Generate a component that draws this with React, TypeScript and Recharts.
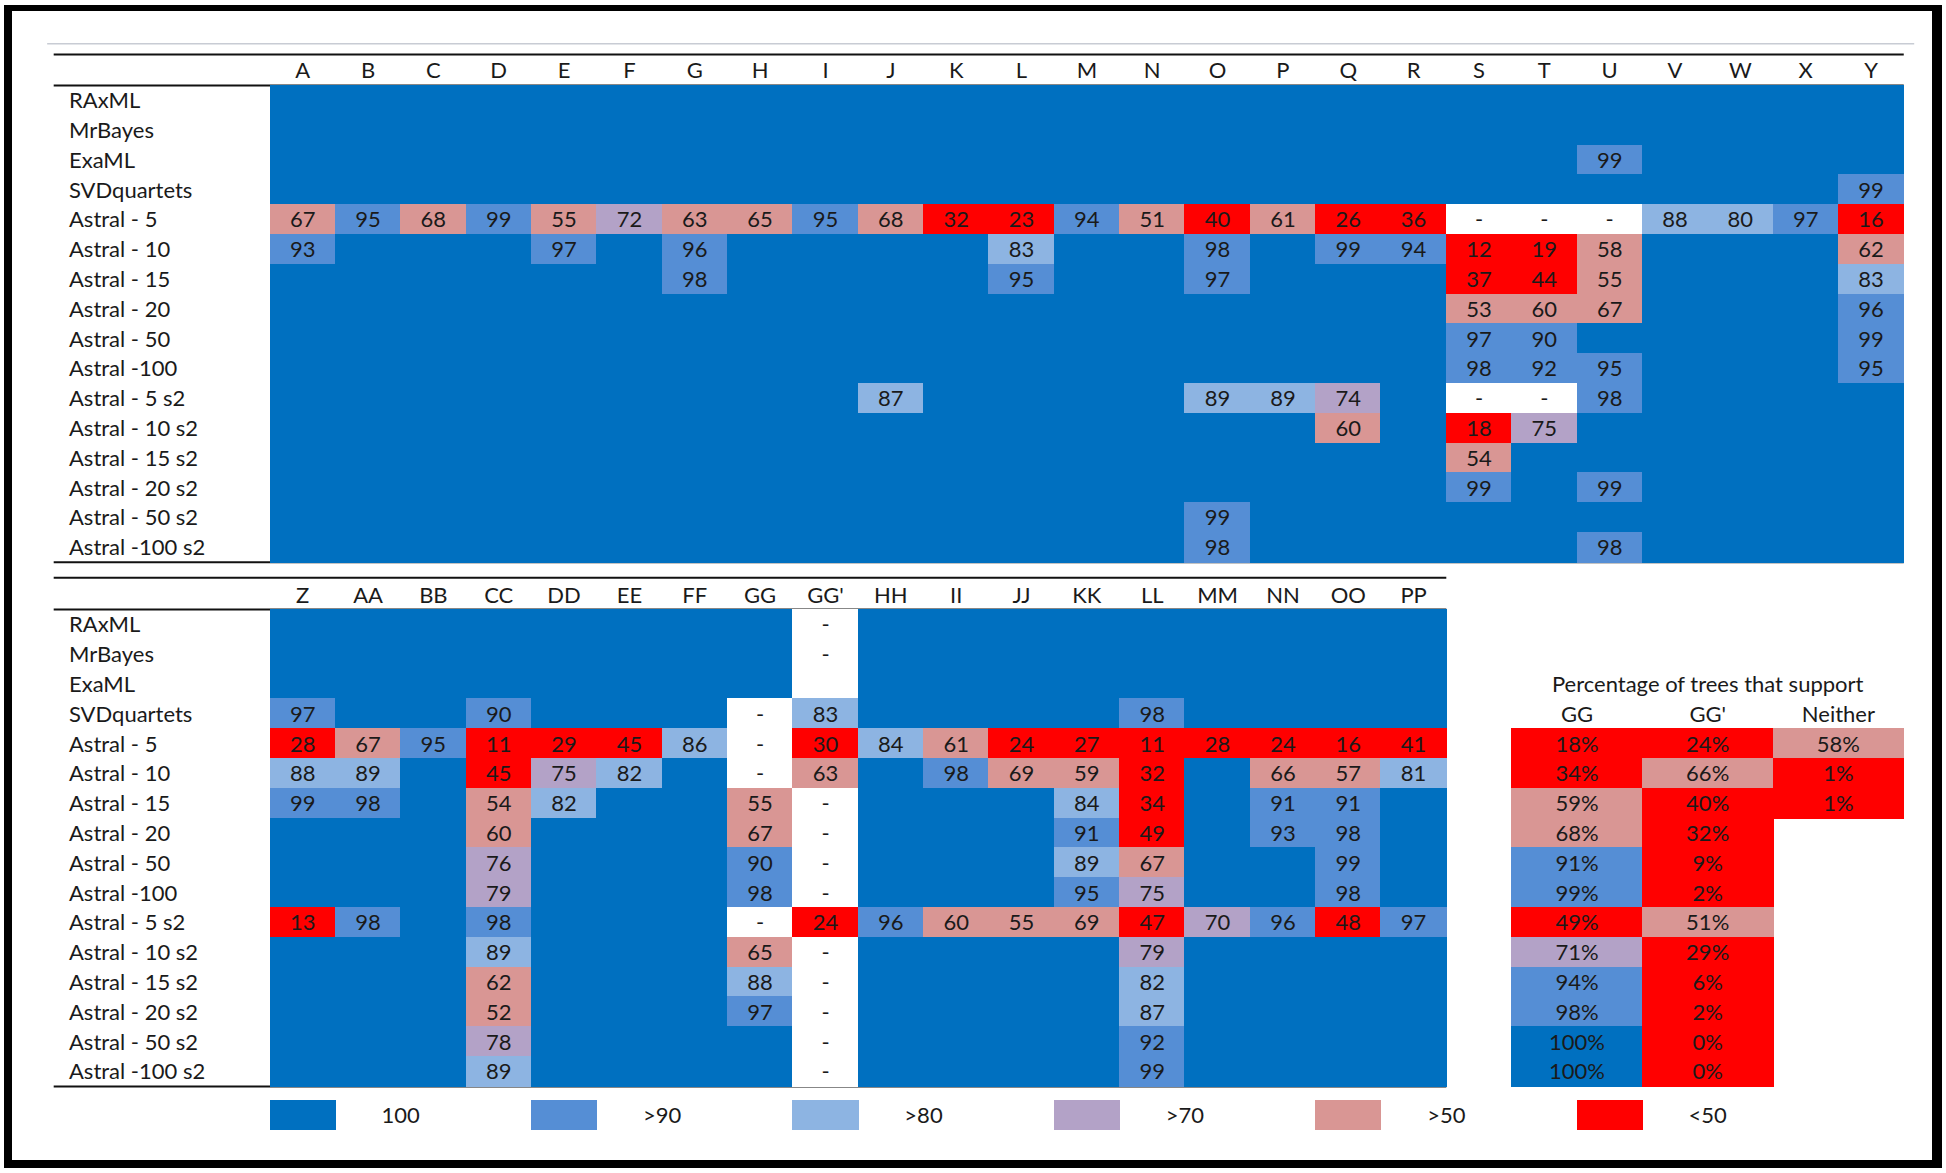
import React from 'react';
import { ScatterChart, Scatter, XAxis, YAxis, ReferenceLine } from 'recharts';

// ---------- data ----------
const ROW_LABELS = [
  'RAxML', 'MrBayes', 'ExaML', 'SVDquartets',
  'Astral - 5', 'Astral - 10', 'Astral - 15', 'Astral - 20', 'Astral - 50', 'Astral -100',
  'Astral - 5 s2', 'Astral - 10 s2', 'Astral - 15 s2', 'Astral - 20 s2', 'Astral - 50 s2', 'Astral -100 s2',
];

const COLS_1 = ['A', 'B', 'C', 'D', 'E', 'F', 'G', 'H', 'I', 'J', 'K', 'L', 'M', 'N', 'O', 'P', 'Q', 'R', 'S', 'T', 'U', 'V', 'W', 'X', 'Y'];
const COLS_2 = ['Z', 'AA', 'BB', 'CC', 'DD', 'EE', 'FF', 'GG', "GG'", 'HH', 'II', 'JJ', 'KK', 'LL', 'MM', 'NN', 'OO', 'PP'];

type V = number | string;

const T1_RAXML: V[] = [100, 100, 100, 100, 100, 100, 100, 100, 100, 100, 100, 100, 100, 100, 100, 100, 100, 100, 100, 100, 100, 100, 100, 100, 100];
const T1_MRBAYES: V[] = [100, 100, 100, 100, 100, 100, 100, 100, 100, 100, 100, 100, 100, 100, 100, 100, 100, 100, 100, 100, 100, 100, 100, 100, 100];
const T1_EXAML: V[] = [100, 100, 100, 100, 100, 100, 100, 100, 100, 100, 100, 100, 100, 100, 100, 100, 100, 100, 100, 100, 99, 100, 100, 100, 100];
const T1_SVD: V[] = [100, 100, 100, 100, 100, 100, 100, 100, 100, 100, 100, 100, 100, 100, 100, 100, 100, 100, 100, 100, 100, 100, 100, 100, 99];
const T1_A5: V[] = [67, 95, 68, 99, 55, 72, 63, 65, 95, 68, 32, 23, 94, 51, 40, 61, 26, 36, '-', '-', '-', 88, 80, 97, 16];
const T1_A10: V[] = [93, 100, 100, 100, 97, 100, 96, 100, 100, 100, 100, 83, 100, 100, 98, 100, 99, 94, 12, 19, 58, 100, 100, 100, 62];
const T1_A15: V[] = [100, 100, 100, 100, 100, 100, 98, 100, 100, 100, 100, 95, 100, 100, 97, 100, 100, 100, 37, 44, 55, 100, 100, 100, 83];
const T1_A20: V[] = [100, 100, 100, 100, 100, 100, 100, 100, 100, 100, 100, 100, 100, 100, 100, 100, 100, 100, 53, 60, 67, 100, 100, 100, 96];
const T1_A50: V[] = [100, 100, 100, 100, 100, 100, 100, 100, 100, 100, 100, 100, 100, 100, 100, 100, 100, 100, 97, 90, 100, 100, 100, 100, 99];
const T1_A100: V[] = [100, 100, 100, 100, 100, 100, 100, 100, 100, 100, 100, 100, 100, 100, 100, 100, 100, 100, 98, 92, 95, 100, 100, 100, 95];
const T1_A5S2: V[] = [100, 100, 100, 100, 100, 100, 100, 100, 100, 87, 100, 100, 100, 100, 89, 89, 74, 100, '-', '-', 98, 100, 100, 100, 100];
const T1_A10S2: V[] = [100, 100, 100, 100, 100, 100, 100, 100, 100, 100, 100, 100, 100, 100, 100, 100, 60, 100, 18, 75, 100, 100, 100, 100, 100];
const T1_A15S2: V[] = [100, 100, 100, 100, 100, 100, 100, 100, 100, 100, 100, 100, 100, 100, 100, 100, 100, 100, 54, 100, 100, 100, 100, 100, 100];
const T1_A20S2: V[] = [100, 100, 100, 100, 100, 100, 100, 100, 100, 100, 100, 100, 100, 100, 100, 100, 100, 100, 99, 100, 99, 100, 100, 100, 100];
const T1_A50S2: V[] = [100, 100, 100, 100, 100, 100, 100, 100, 100, 100, 100, 100, 100, 100, 99, 100, 100, 100, 100, 100, 100, 100, 100, 100, 100];
const T1_A100S2: V[] = [100, 100, 100, 100, 100, 100, 100, 100, 100, 100, 100, 100, 100, 100, 98, 100, 100, 100, 100, 100, 98, 100, 100, 100, 100];

const T2_RAXML: V[] = [100, 100, 100, 100, 100, 100, 100, 100, '-', 100, 100, 100, 100, 100, 100, 100, 100, 100];
const T2_MRBAYES: V[] = [100, 100, 100, 100, 100, 100, 100, 100, '-', 100, 100, 100, 100, 100, 100, 100, 100, 100];
const T2_EXAML: V[] = [100, 100, 100, 100, 100, 100, 100, 100, '', 100, 100, 100, 100, 100, 100, 100, 100, 100];
const T2_SVD: V[] = [97, 100, 100, 90, 100, 100, 100, '-', 83, 100, 100, 100, 100, 98, 100, 100, 100, 100];
const T2_A5: V[] = [28, 67, 95, 11, 29, 45, 86, '-', 30, 84, 61, 24, 27, 11, 28, 24, 16, 41];
const T2_A10: V[] = [88, 89, 100, 45, 75, 82, 100, '-', 63, 100, 98, 69, 59, 32, 100, 66, 57, 81];
const T2_A15: V[] = [99, 98, 100, 54, 82, 100, 100, 55, '-', 100, 100, 100, 84, 34, 100, 91, 91, 100];
const T2_A20: V[] = [100, 100, 100, 60, 100, 100, 100, 67, '-', 100, 100, 100, 91, 49, 100, 93, 98, 100];
const T2_A50: V[] = [100, 100, 100, 76, 100, 100, 100, 90, '-', 100, 100, 100, 89, 67, 100, 100, 99, 100];
const T2_A100: V[] = [100, 100, 100, 79, 100, 100, 100, 98, '-', 100, 100, 100, 95, 75, 100, 100, 98, 100];
const T2_A5S2: V[] = [13, 98, 100, 98, 100, 100, 100, '-', 24, 96, 60, 55, 69, 47, 70, 96, 48, 97];
const T2_A10S2: V[] = [100, 100, 100, 89, 100, 100, 100, 65, '-', 100, 100, 100, 100, 79, 100, 100, 100, 100];
const T2_A15S2: V[] = [100, 100, 100, 62, 100, 100, 100, 88, '-', 100, 100, 100, 100, 82, 100, 100, 100, 100];
const T2_A20S2: V[] = [100, 100, 100, 52, 100, 100, 100, 97, '-', 100, 100, 100, 100, 87, 100, 100, 100, 100];
const T2_A50S2: V[] = [100, 100, 100, 78, 100, 100, 100, 100, '-', 100, 100, 100, 100, 92, 100, 100, 100, 100];
const T2_A100S2: V[] = [100, 100, 100, 89, 100, 100, 100, 100, '-', 100, 100, 100, 100, 99, 100, 100, 100, 100];

const TABLE_1 = [T1_RAXML, T1_MRBAYES, T1_EXAML, T1_SVD, T1_A5, T1_A10, T1_A15, T1_A20, T1_A50, T1_A100, T1_A5S2, T1_A10S2, T1_A15S2, T1_A20S2, T1_A50S2, T1_A100S2];
const TABLE_2 = [T2_RAXML, T2_MRBAYES, T2_EXAML, T2_SVD, T2_A5, T2_A10, T2_A15, T2_A20, T2_A50, T2_A100, T2_A5S2, T2_A10S2, T2_A15S2, T2_A20S2, T2_A50S2, T2_A100S2];

const PCT_TITLE = 'Percentage of trees that support';
const PCT_HEADERS = ['GG', "GG'", 'Neither'];
const PCT_GG = [18, 34, 59, 68, 91, 99, 49, 71, 94, 98, 100, 100];
const PCT_GGP = [24, 66, 40, 32, 9, 2, 51, 29, 6, 2, 0, 0];
const PCT_NEITHER = [58, 1, 1];

const LEGEND_LABELS = ['100', '>90', '>80', '>70', '>50', '<50'];
const LEGEND_LEVELS = [100, 95, 85, 75, 60, 30];

// ---------- layout ----------
const W = 1946;
const H = 1173;
const COL_W = 65.35;
const ROW_H = 29.8;
const LEFT_PX = 270;
const TOP_PX = 85.4;
const X_DOMAIN: [number, number] = [-LEFT_PX / COL_W, (W - LEFT_PX) / COL_W];
const Y_DOMAIN: [number, number] = [-TOP_PX / ROW_H, (H - TOP_PX) / ROW_H];
const T2 = 17.59; // first data row of lower table (row units)
const LINE_LEFT = -3.31;
const LABEL_X = -3.076;
const LEGEND_Y = T2 + 16.46;
const FONT = 'Lato, "Open Sans", "DejaVu Sans", sans-serif';
const TEXT = '#1a1a1a';
const FS = 22;

const colorOf = (v: V): string => {
  if (typeof v === 'string') return '#FFFFFF';
  if (v >= 100) return '#0070C0';
  if (v >= 90) return '#558ED5';
  if (v >= 80) return '#8DB4E2';
  if (v >= 70) return '#B3A2C7';
  if (v >= 50) return '#D99694';
  return '#FF0000';
};

type Cell = { x: number; y: number; w: number; fill: string; text: string };
type Txt = { x: number; y: number; text: string; anchor: string };

const cells: Cell[] = [];
TABLE_1.forEach((row, ri) =>
  row.forEach((v, ci) =>
    cells.push({ x: ci + 0.5, y: ri + 0.5, w: 1, fill: colorOf(v), text: v === 100 ? '' : String(v) })
  )
);
TABLE_2.forEach((row, ri) =>
  row.forEach((v, ci) =>
    cells.push({ x: ci + 0.5, y: T2 + ri + 0.5, w: 1, fill: colorOf(v), text: v === 100 ? '' : String(v) })
  )
);
[PCT_GG, PCT_GGP, PCT_NEITHER].forEach((col, k) =>
  col.forEach((v, i) =>
    cells.push({ x: 19 + 2 * k + 1, y: T2 + 4 + i + 0.5, w: 2, fill: colorOf(v), text: `${v}%` })
  )
);
LEGEND_LEVELS.forEach((v, k) =>
  cells.push({ x: 4 * k + 0.5, y: LEGEND_Y + 0.5, w: 1, fill: colorOf(v), text: '' })
);

const texts: Txt[] = [];
COLS_1.forEach((c, i) => texts.push({ x: i + 0.5, y: -0.5, text: c, anchor: 'middle' }));
COLS_2.forEach((c, i) => texts.push({ x: i + 0.5, y: T2 - 0.5, text: c, anchor: 'middle' }));
ROW_LABELS.forEach((r, i) => {
  texts.push({ x: LABEL_X, y: i + 0.5, text: r, anchor: 'start' });
  texts.push({ x: LABEL_X, y: T2 + i + 0.5, text: r, anchor: 'start' });
});
texts.push({ x: 22, y: T2 + 2.5, text: PCT_TITLE, anchor: 'middle' });
PCT_HEADERS.forEach((h, k) => texts.push({ x: 20 + 2 * k, y: T2 + 3.5, text: h, anchor: 'middle' }));
LEGEND_LABELS.forEach((l, k) => texts.push({ x: 4 * k + 2, y: LEGEND_Y + 0.5, text: l, anchor: 'middle' }));

// ---------- shapes ----------
const CellShape = (p: any) => {
  const { cx, cy, payload } = p;
  const w = payload.w * COL_W;
  return (
    <g>
      <rect
        x={cx - w / 2 - 0.5}
        y={cy - ROW_H / 2 - 0.5}
        width={w + 1}
        height={ROW_H + 1}
        fill={payload.fill}
        shapeRendering="crispEdges"
      />
      {payload.text ? (
        <text x={cx} y={cy + FS * 0.36} textAnchor="middle" fontSize={FS} fill={TEXT} fontFamily={FONT}>
          {payload.text}
        </text>
      ) : null}
    </g>
  );
};

const TextShape = (p: any) => {
  const { cx, cy, payload } = p;
  return (
    <text x={cx} y={cy + FS * 0.36} textAnchor={payload.anchor} fontSize={FS} fill={TEXT} fontFamily={FONT}>
      {payload.text}
    </text>
  );
};

const hline = (y: number, x1: number, x2: number, stroke: string, sw: number, key: string) => (
  <ReferenceLine
    key={key}
    segment={[{ x: x1, y }, { x: x2, y }]}
    stroke={stroke}
    strokeWidth={sw}
    ifOverflow="visible"
  />
);

export default function App() {
  return (
    <div style={{ position: 'fixed', left: 0, top: 0, width: W, height: H, background: '#fff', overflow: 'hidden' }}>
      <ScatterChart width={W} height={H} margin={{ top: 0, right: 0, bottom: 0, left: 0 }}>
        <XAxis type="number" dataKey="x" domain={X_DOMAIN} allowDataOverflow hide />
        <YAxis type="number" dataKey="y" domain={Y_DOMAIN} allowDataOverflow reversed hide />
        <Scatter data={cells} shape={CellShape} isAnimationActive={false} />
        <Scatter data={texts} shape={TextShape} isAnimationActive={false} />
        {hline(-1.4, -3.41, 25.16, '#c8ccd4', 1.5, 'g')}
        {hline(-1.04, LINE_LEFT, 25, '#111', 2, 't1a')}
        {hline(0, LINE_LEFT, 25, '#111', 2, 't1b')}
        {hline(16, LINE_LEFT, 25, '#111', 2, 't1c')}
        {hline(T2 - 1.07, LINE_LEFT, 18, '#111', 2, 't2a')}
        {hline(T2, LINE_LEFT, 18, '#111', 2, 't2b')}
        {hline(T2 + 16, LINE_LEFT, 18, '#111', 2, 't2c')}
      </ScatterChart>
      <div
        style={{
          position: 'absolute',
          left: 4,
          top: 5,
          width: 1938,
          height: 1163,
          boxSizing: 'border-box',
          borderStyle: 'solid',
          borderColor: '#000',
          borderWidth: '6px 10px 8px 8px',
          pointerEvents: 'none',
        }}
      />
    </div>
  );
}
